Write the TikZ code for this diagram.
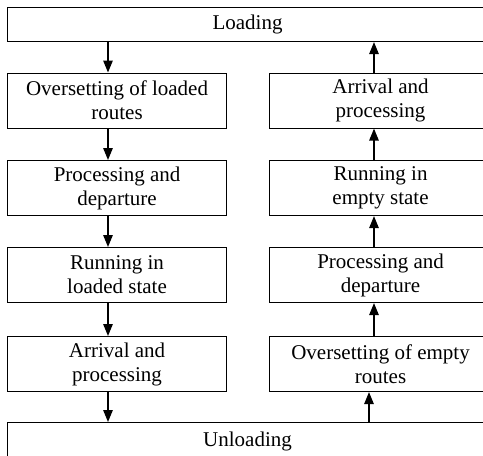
\documentclass[tikz,border=0pt]{standalone}
\usepackage{fontspec}
\setmainfont{Liberation Serif}
\usetikzlibrary{arrows.meta}
\begin{document}
\begin{tikzpicture}[x=1pt,y=1pt,
  box/.style={draw, line width=1.1pt, inner sep=0pt, align=center,
    font=\fontsize{21}{24}\selectfont, anchor=north west},
  lbox/.style={box, minimum width=219pt, minimum height=55pt},
  rbox/.style={box, minimum width=222pt, minimum height=55pt},
  wbox/.style={box, minimum width=480pt},
  arr/.style={-{Triangle[length=12pt,width=9.5pt]}, line width=1.3pt}]
\useasboundingbox (0,0) rectangle (483,-456);
\node[wbox, minimum height=34pt] (load) at (7,-7) {Loading};
\node[lbox] (l1) at (7,-72.5) {Oversetting of loaded\\routes};
\node[lbox] (l2) at (7,-160) {Processing and\\departure};
\node[lbox] (l3) at (7,-247) {Running in\\loaded state};
\node[lbox] (l4) at (7,-336) {Arrival and\\processing};
\node[rbox] (r1) at (269,-72.5) {Arrival and\\processing};
\node[rbox] (r2) at (269,-160) {Running in\\empty state};
\node[rbox] (r3) at (269,-247) {Processing and\\departure};
\node[rbox] (r4) at (269,-336) {Oversetting of empty\\routes};
\node[wbox, minimum height=38pt] (unload) at (7,-422) {Unloading};
\coordinate (lx) at (108,0);
\coordinate (rx) at (374,0);
\coordinate (ux) at (369,0);
\draw[arr] (load.south -| lx) -- (l1.north -| lx);
\draw[arr] (l1.south -| lx) -- (l2.north -| lx);
\draw[arr] (l2.south -| lx) -- (l3.north -| lx);
\draw[arr] (l3.south -| lx) -- (l4.north -| lx);
\draw[arr] (l4.south -| lx) -- (unload.north -| lx);
\draw[arr] (unload.north -| ux) -- (r4.south -| ux);
\draw[arr] (r4.north -| rx) -- (r3.south -| rx);
\draw[arr] (r3.north -| rx) -- (r2.south -| rx);
\draw[arr] (r2.north -| rx) -- (r1.south -| rx);
\draw[arr] (r1.north -| rx) -- (load.south -| rx);
\end{tikzpicture}
\end{document}
